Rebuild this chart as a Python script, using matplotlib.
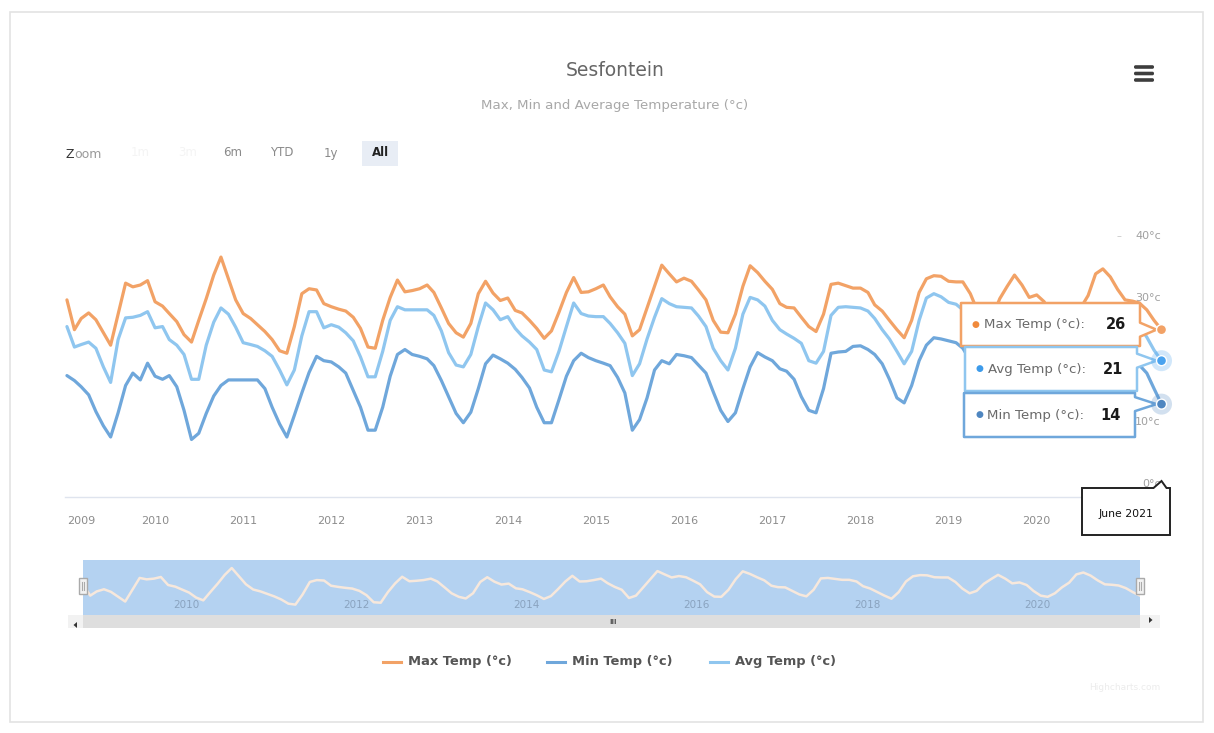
import matplotlib
matplotlib.use('Agg')
import matplotlib.pyplot as plt
import matplotlib.patches as mpatches
import matplotlib.transforms as mtransforms
import pandas as pd

plt.rcParams['font.family'] = ['DejaVu Sans']

# ---------------- data ----------------
title = "Sesfontein"
subtitle = "Max, Min and Average Temperature (°c)"
series_names = ["Max Temp (°c)", "Min Temp (°c)", "Avg Temp (°c)"]
start_month = "2009-01-01"

max_temp = [30.8, 26.0, 27.8, 28.7, 27.6, 25.5, 23.5, 28.5, 33.5, 32.9, 33.2, 33.9,
            30.5, 29.8, 28.6, 27.3, 25.2, 24.0, 27.5, 31.0, 34.8, 37.7, 34.2, 30.8,
            28.6, 27.8, 26.8, 25.7, 24.4, 22.6, 22.2, 26.5, 31.8, 32.6, 32.4, 30.2,
            29.7, 29.3, 29.0, 28.0, 26.2, 23.2, 23.0, 27.5, 31.2, 34.0, 32.1, 32.3,
            32.6, 33.2, 32.0, 29.5, 27.0, 25.5, 24.8, 27.0, 31.8, 33.8, 31.9, 30.7,
            31.1, 29.1, 28.7, 27.5, 26.2, 24.6, 25.8, 28.8, 32.0, 34.4, 32.0, 32.1,
            32.6, 33.2, 31.3, 29.7, 28.5, 25.0, 26.0, 29.5, 33.0, 36.4, 35.0, 33.7,
            34.3, 33.8, 32.4, 30.8, 27.5, 25.6, 25.5, 28.5, 33.0, 36.3, 35.2, 33.8,
            32.5, 30.2, 29.6, 29.5, 28.0, 26.5, 25.7, 28.5, 33.3, 33.5, 33.1, 32.7,
            32.7, 32.0, 30.0, 29.0, 27.5, 26.0, 24.7, 27.5, 32.0, 34.2, 34.7, 34.6,
            33.8, 33.7, 33.7, 31.8, 29.0, 27.0, 28.0, 31.0, 33.0, 34.8, 33.2, 31.2,
            31.6, 30.5, 28.0, 26.0, 25.5, 27.0, 29.5, 31.5, 35.0, 35.8, 34.5, 32.5,
            30.8, 30.6, 30.3, 29.2, 27.5, 26.0]

min_temp = [18.6, 17.8, 16.8, 15.5, 12.8, 10.5, 8.7, 12.6, 17.0, 19.0, 17.9, 20.6,
            18.5, 18.0, 18.6, 16.8, 13.0, 8.3, 9.3, 12.5, 15.3, 17.0, 17.9, 17.9,
            17.9, 17.9, 17.9, 16.5, 13.5, 10.8, 8.7, 12.2, 15.8, 19.1, 21.7, 21.0,
            20.8, 20.0, 19.0, 16.2, 13.5, 9.8, 9.8, 13.5, 18.5, 22.0, 22.8, 22.0,
            21.7, 21.3, 20.2, 17.8, 15.2, 12.5, 11.0, 12.7, 16.5, 20.5, 21.9, 21.3,
            20.6, 19.6, 18.3, 16.6, 13.5, 11.0, 11.0, 14.7, 18.5, 21.0, 22.2, 21.5,
            21.0, 20.6, 20.2, 18.3, 15.8, 9.8, 11.5, 15.0, 19.5, 21.0, 20.5, 22.0,
            21.8, 21.5, 20.3, 19.0, 16.0, 13.0, 11.2, 12.6, 16.5, 20.0, 22.3, 21.6,
            21.0, 19.7, 19.3, 18.0, 15.2, 13.0, 12.6, 16.5, 22.2, 22.4, 22.5, 23.3,
            23.4, 22.8, 22.0, 20.5, 18.0, 15.0, 14.2, 17.0, 21.0, 23.5, 24.7, 24.5,
            24.2, 23.9, 23.0, 21.0, 17.5, 13.5, 11.5, 14.0, 19.0, 22.0, 22.3, 21.3,
            21.0, 20.0, 17.0, 13.5, 11.5, 12.0, 15.0, 19.5, 22.0, 23.0, 22.5, 22.0,
            21.0, 20.5, 20.3, 19.0, 16.5, 14.0]

avg_temp = [26.5, 23.2, 23.6, 24.0, 23.0, 20.0, 17.5, 24.4, 27.9, 28.0, 28.3, 28.9,
            26.3, 26.5, 24.4, 23.5, 22.0, 18.0, 18.0, 23.5, 27.2, 29.5, 28.5, 26.4,
            23.9, 23.6, 23.3, 22.6, 21.7, 19.5, 17.1, 19.5, 25.0, 28.9, 28.9, 26.3,
            26.8, 26.4, 25.5, 24.2, 21.6, 18.4, 18.4, 22.5, 27.5, 29.7, 29.2, 29.2,
            29.2, 29.2, 28.3, 25.8, 22.3, 20.3, 20.0, 22.0, 26.5, 30.3, 29.2, 27.6,
            28.1, 26.2, 25.0, 24.0, 22.8, 19.5, 19.2, 22.5, 26.5, 30.3, 28.6, 28.2,
            28.1, 28.1, 27.0, 25.5, 23.8, 18.6, 20.5, 24.5, 28.0, 31.0, 30.2, 29.7,
            29.6, 29.5, 28.2, 26.5, 23.0, 21.0, 19.5, 23.0, 28.5, 31.2, 30.8, 29.8,
            27.5, 26.0, 25.3, 24.6, 23.8, 21.0, 20.6, 22.5, 28.3, 29.6, 29.7, 29.6,
            29.5, 29.0, 27.8, 26.0, 24.5, 22.5, 20.5, 22.5, 27.5, 31.1, 31.8, 31.3,
            30.4, 30.1, 29.2, 27.5, 25.0, 21.5, 20.0, 23.0, 26.5, 28.8, 28.2, 27.5,
            27.3, 26.5, 24.5, 21.5, 20.0, 20.5, 23.0, 26.0, 28.2, 29.0, 28.8, 28.2,
            27.3, 27.0, 26.5, 24.8, 22.7, 21.0]

year_labels = ['2009', '2010', '2011', '2012', '2013', '2014', '2015',
               '2016', '2017', '2018', '2019', '2020']
nav_year_labels = ['2010', '2012', '2014', '2016', '2018', '2020']
ytick_values = [0, 10, 30, 40]          # 20°c is hidden behind the tooltip
zoom_buttons = ['1m', '3m', '6m', 'YTD', '1y', 'All']
hover_label = 'June 2021'

# ---------------- style ----------------
MAX_C = '#f2a266'
MIN_C = '#6fa7db'
AVG_C = '#8fc6ef'
W, H = 1214, 733

dates = pd.date_range(start_month, periods=len(max_temp), freq='MS')

fig = plt.figure(figsize=(W / 100, H / 100), dpi=100)
fig.patch.set_facecolor('white')


def fr(x0, y0, x1, y1):
    """pixel box (top-left origin) -> figure fraction rect"""
    return [x0 / W, 1 - y1 / H, (x1 - x0) / W, (y1 - y0) / H]


# ---------------- main axes ----------------
ax = fig.add_axes(fr(65, 200, 1162, 497), zorder=1)
ax.set_facecolor('white')
for sp in ['top', 'left', 'right']:
    ax.spines[sp].set_visible(False)
ax.spines['bottom'].set_color('#dfe4ee')
ax.spines['bottom'].set_linewidth(1.0)
ax.set_ylim(-0.97, 46.9)
ax.set_xlim(dates[0] - pd.Timedelta(days=8), dates[-1] + pd.Timedelta(days=2))
ax.set_xticks([])
ax.set_yticks([])

kw = dict(lw=2.3, solid_joinstyle='round', solid_capstyle='round')
ax.plot(dates, max_temp, color=MAX_C, zorder=3, **kw)
ax.plot(dates, min_temp, color=MIN_C, zorder=3, **kw)
ax.plot(dates, avg_temp, color=AVG_C, zorder=4, **kw)

# y labels (inside, right)
ytr = mtransforms.blended_transform_factory(ax.transAxes, ax.transData)
for v in ytick_values:
    ax.text(0.999, v + 0.3, f"{v}°c", transform=ytr, ha='right', va='bottom',
            fontsize=8, color='#a0a0a0', zorder=2)
ax.text(0.963, 40 + 0.3, "–", transform=ytr, ha='right', va='bottom',
        fontsize=7, color='#c8c8c8', zorder=2)

# x labels (year ticks)
xtr = mtransforms.blended_transform_factory(ax.transData, ax.transAxes)
for i, lab in enumerate(year_labels):
    d = pd.Timestamp(f"{lab}-01-01")
    if i == 0:
        ax.text(0.0015, -0.08, lab, transform=ax.transAxes, ha='left', va='center',
                fontsize=8, color='#8c8c8c')
    else:
        ax.text(d, -0.08, lab, transform=xtr, ha='center', va='center',
                fontsize=8, color='#8c8c8c')

# ---------------- navigator ----------------
nav = fig.add_axes(fr(83, 560, 1140, 615), zorder=1)
nav.set_facecolor('#b4d2f1')
for sp in nav.spines.values():
    sp.set_visible(False)
nav.set_xticks([])
nav.set_yticks([])
nav.set_xlim(dates[0], dates[-1])
nav.set_ylim(17.8, 41.1)
nav.plot(dates, max_temp, color='#f7e8dc', lw=1.8, zorder=3,
         solid_joinstyle='round')
ntr = mtransforms.blended_transform_factory(nav.transData, nav.transAxes)
for lab in nav_year_labels:
    nav.text(pd.Timestamp(f"{lab}-01-01") + pd.Timedelta(days=20), 0.18, lab,
             transform=ntr, ha='left', va='center', fontsize=7.5, color='#8aa3bf')

# ---------------- overlay for chrome ----------------
ov = fig.add_axes([0, 0, 1, 1], zorder=10)
ov.set_xlim(0, W)
ov.set_ylim(H, 0)
ov.axis('off')


def px(axis, x, y):
    X, Y = axis.transData.transform((matplotlib.dates.date2num(x), y))
    return X, H - Y


# outer frame
ov.add_patch(mpatches.Rectangle((10, 12), 1193, 710, fill=False, ec='#e3e3e3', lw=1.2))

# title / subtitle
ov.text(615, 70, title, ha='center', va='center', fontsize=13.5, color='#666666')
ov.text(615, 106, subtitle, ha='center', va='center', fontsize=9.6, color='#a8a8a8')

# hamburger
for yy in (67, 73.5, 80):
    ov.add_patch(mpatches.FancyBboxPatch((1134, yy - 1.8), 20, 3.6,
                                         boxstyle='round,pad=0,rounding_size=1.6',
                                         fc='#3d3d3d', ec='none'))

# range selector
ov.text(65, 155, "Z", ha='left', va='center', fontsize=9, color='#333333')
ov.text(74, 155, "oom", ha='left', va='center', fontsize=9, color='#9a9a9a')
btn_x = [140, 188, 233, 282, 331, 380]
ov.add_patch(mpatches.Rectangle((362, 141), 36, 25, fc='#e8edf5', ec='none'))
for b, bx in zip(zoom_buttons, btn_x):
    if b == 'All':
        ov.text(bx, 153, b, ha='center', va='center', fontsize=8.5,
                color='#222222', fontweight='bold')
    elif b in ('1m', '3m'):
        ov.text(bx, 153, b, ha='center', va='center', fontsize=8.5, color='#f4f4f4')
    else:
        ov.text(bx, 153, b, ha='center', va='center', fontsize=8.5, color='#8a8a8a')

# scrollbar
ov.add_patch(mpatches.Rectangle((68, 615), 1092, 13, fc='#f2f2f2', ec='none'))
ov.add_patch(mpatches.Rectangle((83, 615), 1057, 13, fc='#dedede', ec='none'))
ov.text(613, 622, "III", ha='center', va='center', fontsize=5, color='#555555',
        fontweight='bold')
ov.add_patch(mpatches.Polygon([(77, 622), (73.5, 625), (77, 628)], closed=True,
                              fc='#333333', ec='none'))
ov.add_patch(mpatches.Polygon([(1149, 617), (1152.5, 620), (1149, 623)], closed=True,
                              fc='#333333', ec='none'))
# navigator handles
for hx in (83, 1140):
    ov.add_patch(mpatches.Rectangle((hx - 4, 578), 8, 16, fc='#f2f2f2', ec='#aaaaaa', lw=1))
    ov.plot([hx - 1, hx - 1], [582, 590], color='#aaaaaa', lw=0.8)
    ov.plot([hx + 1, hx + 1], [582, 590], color='#aaaaaa', lw=0.8)

# legend
leg_items = [(series_names[0], MAX_C, 383), (series_names[1], MIN_C, 547),
             (series_names[2], AVG_C, 710)]
for name, col, lx in leg_items:
    ov.plot([lx, lx + 18], [662, 662], color=col, lw=2.2)
    ov.text(lx + 25, 662, name, ha='left', va='center', fontsize=9.4,
            fontweight='bold', color='#555555')

# credits
ov.text(1160, 688, "Highcharts.com", ha='right', va='center', fontsize=6.5,
        color='#ececec')

# split tooltips (opaque white boxes drawn above the plot)
last = dates[-1]
tips = [(series_names[0], max_temp[-1], MAX_C, '#f08a3c', (961, 303, 1140, 346)),
        (series_names[2], avg_temp[-1], AVG_C, '#3d9bea', (965, 347, 1137, 391)),
        (series_names[1], min_temp[-1], MIN_C, '#4f86c0', (964, 393, 1135, 437))]
for name, val, col, dot, (x0, y0, x1, y1) in tips:
    tx, ty = px(ax, last, val)
    ov.add_patch(mpatches.Rectangle((x0, y0), x1 - x0, y1 - y0, fc='white',
                                    ec='none', zorder=4))
    ym = min(max(ty, y0 + 10), y1 - 10)
    poly = [(x0, y0), (x1, y0), (x1, ym - 7), (tx - 5, ty), (x1, ym + 7),
            (x1, y1), (x0, y1)]
    ov.add_patch(mpatches.Polygon(poly, closed=True, fc='white', ec=col, lw=1.8,
                                  joinstyle='round', zorder=5))
    yc = (y0 + y1) / 2
    ov.text(x0 + 11, yc, "●", ha='left', va='center', fontsize=6.5, color=dot, zorder=6)
    ov.text(x0 + 23, yc, f"{name}:", ha='left', va='center', fontsize=9.6,
            color='#6a6a6a', zorder=6)
    ov.text(x1 - 14, yc, f"{val:.0f}", ha='right', va='center', fontsize=10.5,
            color='#1a1a1a', fontweight='bold', zorder=6)

# hover markers on last point (on top of callouts)
for vals, col, halo in [(max_temp, MAX_C, False), (avg_temp, '#4aa3ef', True),
                        (min_temp, '#4f86c0', True)]:
    mx, my = px(ax, last, vals[-1])
    if halo:
        ov.add_patch(mpatches.Circle((mx, my), 10.5, fc=col, alpha=0.25, ec='none',
                                     zorder=7))
    ov.add_patch(mpatches.Circle((mx, my), 5, fc=col, ec='white', lw=1, zorder=8))

# date tooltip on x axis
dx, _ = px(ax, last, 0)
x0, y0, x1, y1 = 1082, 488, 1170, 535
poly = [(x0, y0), (dx - 8, y0), (dx, 481), (dx + 5, y0), (x1, y0), (x1, y1), (x0, y1)]
ov.add_patch(mpatches.Polygon(poly, closed=True, fc='white', ec='#222222', lw=1.4,
                              zorder=5))
ov.text((x0 + x1) / 2, 514, hover_label, ha='center', va='center', fontsize=7.8,
        color='#111111', zorder=6)

fig.savefig('out.png', dpi=100)
